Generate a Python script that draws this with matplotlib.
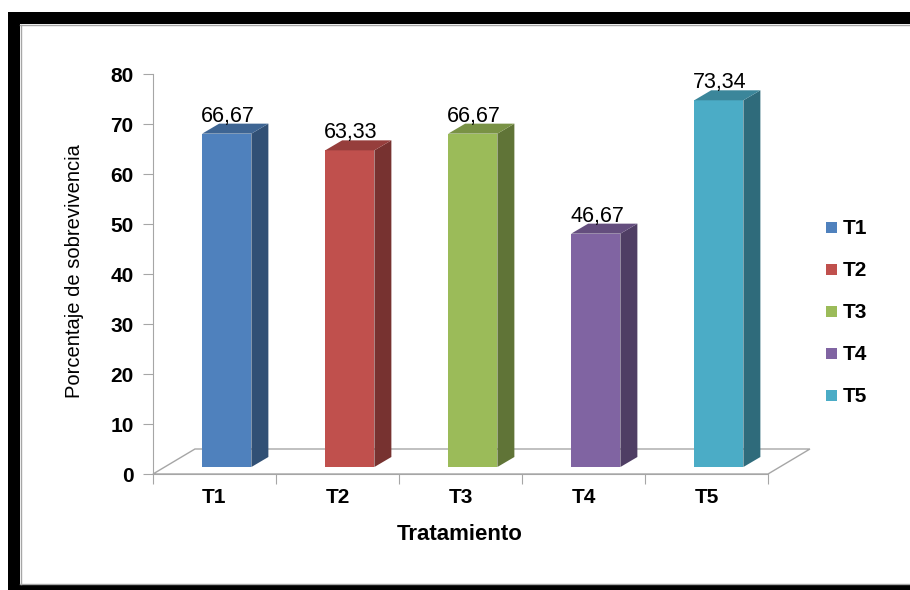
import matplotlib
matplotlib.use('Agg')
import matplotlib.pyplot as plt
from matplotlib.patches import Polygon, Rectangle
from matplotlib.colors import to_rgb

# Datos de sobrevivencia por tratamiento
tratamientos = ['T1', 'T2', 'T3', 'T4', 'T5']
sobrevivencia = [66.67, 63.33, 66.67, 46.67, 73.34]
etiquetas = ['66,67', '63,33', '66,67', '46,67', '73,34']
colores = ['#4F81BD', '#C0504D', '#9BBB59', '#8064A2', '#4BACC6']
yticks = [0, 10, 20, 30, 40, 50, 60, 70, 80]

plt.rcParams['font.family'] = ['Liberation Sans', 'DejaVu Sans']

W, H = 910, 590
fig = plt.figure(figsize=(W / 100, H / 100), dpi=100)


def px(x, y):
    # pixeles (origen arriba a la izquierda) -> fraccion de figura
    return x / W, 1 - y / H


# Marco negro
for x0, y0, x1, y1 in [(8, 12, 20, 590), (8, 12, 910, 24), (8, 585, 910, 590)]:
    fx, fy = px(x0, y1)
    fig.add_artist(Rectangle((fx, fy), (x1 - x0) / W, (y1 - y0) / H,
                             transform=fig.transFigure, color='black', lw=0))
gris = '#A6A6A6'
fig.add_artist(plt.Line2D([px(20.5, 0)[0]] * 2, [px(0, 25)[1], px(0, 584)[1]],
                          transform=fig.transFigure, color=gris, lw=1))
fig.add_artist(plt.Line2D([px(20, 0)[0], 1], [px(0, 24.5)[1]] * 2,
                          transform=fig.transFigure, color=gris, lw=1))
fig.add_artist(plt.Line2D([px(20, 0)[0], 1], [px(0, 584)[1]] * 2,
                          transform=fig.transFigure, color=gris, lw=1))

# Ejes: x de 153 a 768 px, y de 474 a 74 px
ax = fig.add_axes([153 / W, (H - 474) / H, 615 / W, 400 / H])
ax.set_xlim(0, 5)
ax.set_ylim(0, 80)
for s in ['top', 'right']:
    ax.spines[s].set_visible(False)
ax.spines['left'].set_color(gris)
ax.spines['bottom'].set_color(gris)
ax.patch.set_visible(False)

# Piso en perspectiva
fdx, fdy = 0.341, 5.0
piso = Polygon([(0, 0), (fdx, fdy), (5 + fdx, fdy), (5, 0)], closed=True,
               facecolor='white', edgecolor=gris, lw=1, clip_on=False, zorder=1)
ax.add_patch(piso)


def sombra(c, f):
    r, g, b = to_rgb(c)
    return (r * f, g * f, b * f)


# Barras 3D
base = 1.4
ancho = 0.4
bdx, bdy = 0.138, 2.0
for i, (v, c, et) in enumerate(zip(sobrevivencia, colores, etiquetas)):
    x0 = i + 0.4
    x1 = x0 + ancho
    top = base + v
    ax.bar(x0, v, width=ancho, bottom=base, align='edge', color=c,
           zorder=3, clip_on=False)
    ax.add_patch(Polygon([(x1, base), (x1 + bdx, base + bdy), (x1 + bdx, top + bdy), (x1, top)],
                         closed=True, facecolor=sombra(c, 0.62), lw=0, zorder=3, clip_on=False))
    ax.add_patch(Polygon([(x0, top), (x0 + bdx, top + bdy), (x1 + bdx, top + bdy), (x1, top)],
                         closed=True, facecolor=sombra(c, 0.78), lw=0, zorder=3, clip_on=False))
    ax.text(x0 + ancho / 2 + 0.01, top + bdy + 0.4, et, ha='center', va='baseline',
            fontsize=15.5, zorder=4)

# Ticks
ax.set_yticks(yticks)
ax.set_yticklabels([str(t) for t in yticks], fontsize=15, fontweight='bold')
ax.tick_params(axis='y', length=7, color=gris, pad=7)
ax.set_xticks([0, 1, 2, 3, 4, 5])
ax.set_xticklabels([])
ax.tick_params(axis='x', length=7, color=gris)
for i, t in enumerate(tratamientos):
    ax.text(i + 0.5, -4.7, t, ha='center', va='center', fontsize=15, fontweight='bold')

fig.text(*px(460, 535), 'Tratamiento', ha='center', va='center',
         fontsize=16, fontweight='bold')
fig.text(*px(74, 271), 'Porcentaje de sobrevivencia', ha='center', va='center',
         rotation=90, fontsize=14.5, family=['Liberation Sans Narrow', 'Liberation Sans'])

# Leyenda
for i, (t, c) in enumerate(zip(tratamientos, colores)):
    y = 228 + i * 42
    fx, fy = px(826, y + 5)
    fig.add_artist(Rectangle((fx, fy), 11 / W, 11 / H, transform=fig.transFigure,
                             color=c, lw=0))
    fig.text(*px(843, y), t, ha='left', va='center', fontsize=15, fontweight='bold')

fig.savefig('out.png', dpi=100)
